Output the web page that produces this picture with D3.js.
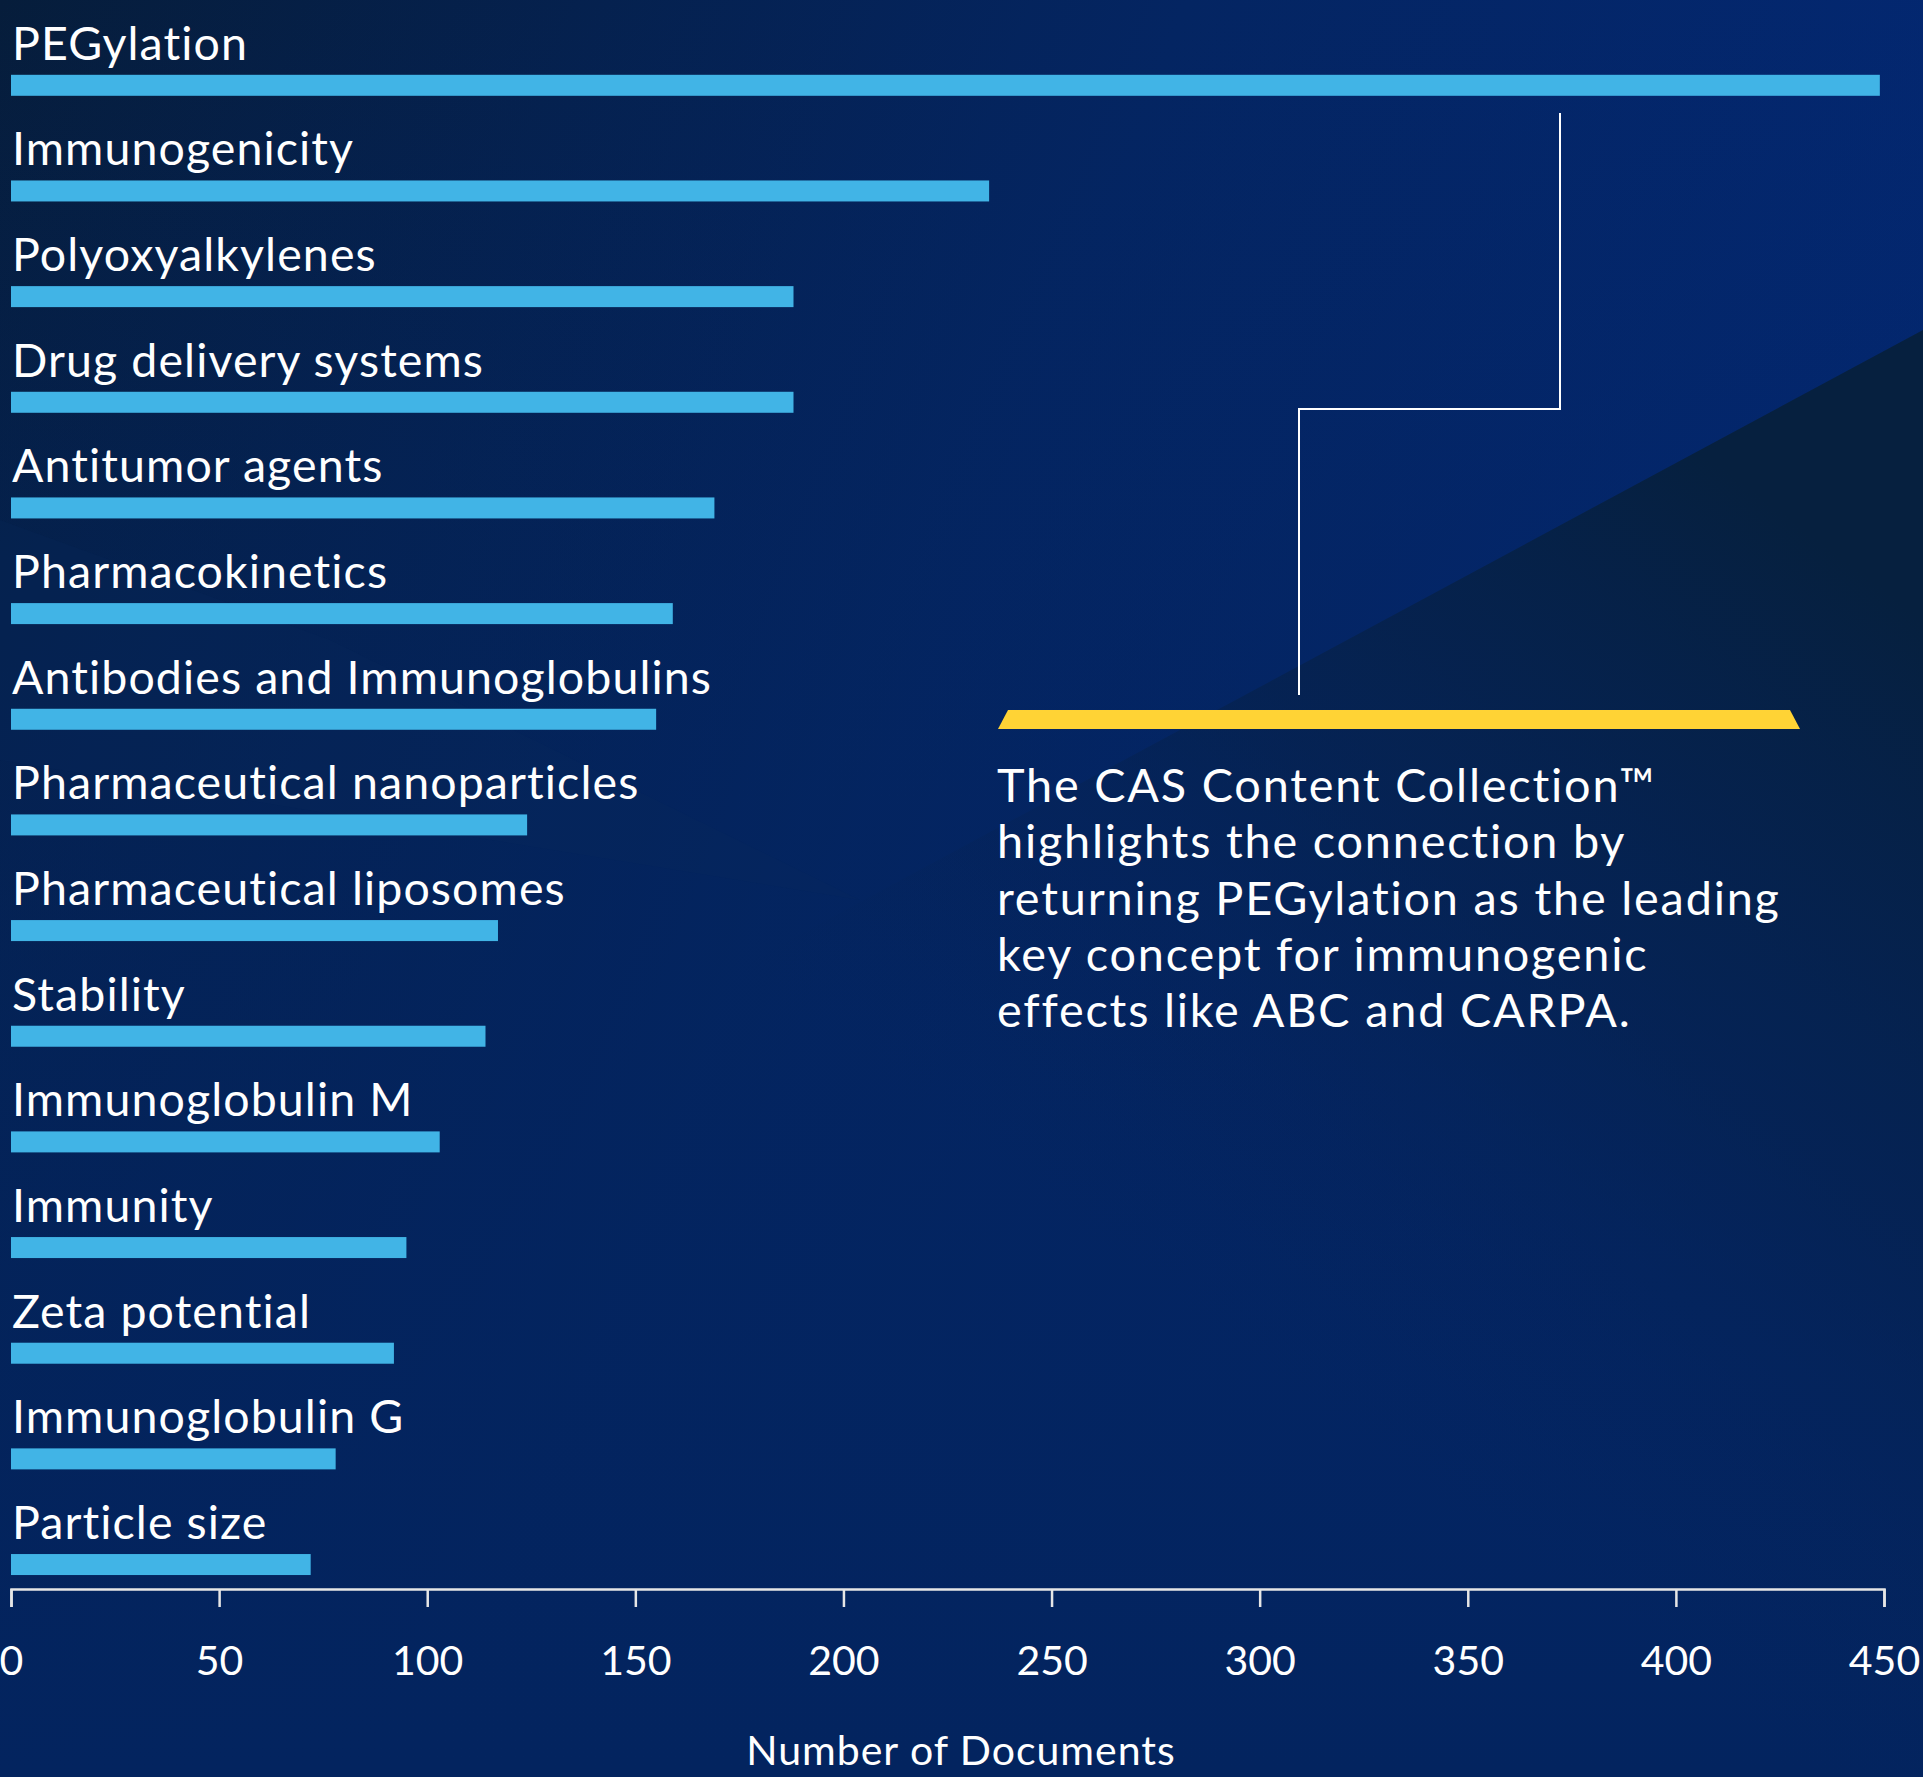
<!DOCTYPE html>
<html>
<head>
<meta charset="utf-8">
<script src="https://cdn.jsdelivr.net/npm/d3@7"></script>
<style>
  html, body { margin: 0; padding: 0; background: #05224f; }
  svg { display: block; }
  text { font-family: Lato, "Open Sans", sans-serif; fill: #ffffff; }
</style>
</head>
<body>
<svg id="chart" width="1923" height="1777"></svg>
<script>
// ---- data ----
const categories = [
  "PEGylation",
  "Immunogenicity",
  "Polyoxyalkylenes",
  "Drug delivery systems",
  "Antitumor agents",
  "Pharmacokinetics",
  "Antibodies and Immunoglobulins",
  "Pharmaceutical nanoparticles",
  "Pharmaceutical liposomes",
  "Stability",
  "Immunoglobulin M",
  "Immunity",
  "Zeta potential",
  "Immunoglobulin G",
  "Particle size"
];
const documentCounts = [449, 235, 188, 188, 169, 159, 155, 124, 117, 114, 103, 95, 92, 78, 72];
const tickValues = [0, 50, 100, 150, 200, 250, 300, 350, 400, 450];
const axisTitle = "Number of Documents";
const annotationLines = [
  "The CAS Content Collection\u2122",
  "highlights the connection by",
  "returning PEGylation as the leading",
  "key concept for immunogenic",
  "effects like ABC and CARPA."
];

// ---- layout ----
const W = 1923, H = 1777;
const svg = d3.select("#chart");

// background
const defs = svg.append("defs");
const bg = defs.append("linearGradient").attr("id", "bg")
  .attr("x1", "0").attr("y1", "0").attr("x2", "1").attr("y2", "0.35");
bg.append("stop").attr("offset", "0").attr("stop-color", "#061d3b");
bg.append("stop").attr("offset", "0.55").attr("stop-color", "#042562");
bg.append("stop").attr("offset", "1").attr("stop-color", "#032874");
svg.append("rect").attr("width", W).attr("height", H).attr("fill", "url(#bg)");

const bgv = defs.append("linearGradient").attr("id", "bgv")
  .attr("x1", "0").attr("y1", "0").attr("x2", "0").attr("y2", "1");
bgv.append("stop").attr("offset", "0").attr("stop-color", "#03245f").attr("stop-opacity", 0);
bgv.append("stop").attr("offset", "0.55").attr("stop-color", "#03245f").attr("stop-opacity", 0.6);
bgv.append("stop").attr("offset", "1").attr("stop-color", "#03245f").attr("stop-opacity", 1);
svg.append("rect").attr("width", W).attr("height", H).attr("fill", "url(#bgv)");

// darker diagonal wedge on the right, fading down-left
const wedge = defs.append("linearGradient").attr("id", "wedge")
  .attr("gradientUnits", "userSpaceOnUse")
  .attr("x1", 1700).attr("y1", 450).attr("x2", 1100).attr("y2", 1250);
wedge.append("stop").attr("offset", "0").attr("stop-color", "#06203f").attr("stop-opacity", 1);
wedge.append("stop").attr("offset", "0.5").attr("stop-color", "#06214a").attr("stop-opacity", 0.6);
wedge.append("stop").attr("offset", "1").attr("stop-color", "#05245d").attr("stop-opacity", 0);
svg.append("path")
  .attr("d", "M1923,330 L0,1365 L0,1777 L1923,1777 Z")
  .attr("fill", "url(#wedge)");

// faint diagonal shapes on the left
svg.append("path")
  .attr("d", "M0,520 L330,640 L860,900 L0,760 Z")
  .attr("fill", "#0a2a5c").attr("opacity", 0.22);

// scales
const x = d3.scaleLinear().domain([0, 450]).range([11, 1884]);
const step = 105.66, barH = 21, y0 = 74.8;
const pInner = 1 - barH / step;
const y = d3.scaleBand().domain(categories)
  .range([y0, y0 + step * (categories.length - pInner)])
  .paddingInner(pInner).paddingOuter(0);

const data = categories.map((c, i) => ({ name: c, value: documentCounts[i] }));

// bars
svg.append("g").selectAll("rect").data(data).join("rect")
  .attr("x", x(0))
  .attr("y", d => y(d.name))
  .attr("width", d => x(d.value) - x(0))
  .attr("height", y.bandwidth())
  .attr("fill", "#41b4e6");

// category labels
svg.append("g").selectAll("text").data(data).join("text")
  .attr("x", 12)
  .attr("y", d => y(d.name) - 15)
  .attr("font-size", 46.5)
  .attr("letter-spacing", 1.1)
  .text(d => d.name);

// x axis
const axisY = 1589;
const axis = svg.append("g").attr("transform", `translate(0,${axisY})`)
  .call(d3.axisBottom(x).tickValues(tickValues).tickSize(18).tickSizeOuter(18).tickFormat(d3.format("d")));
axis.select(".domain").attr("stroke", "#e6e6e6").attr("stroke-width", 2.5);
axis.selectAll(".tick line").attr("stroke", "#e6e6e6").attr("stroke-width", 2.5);
axis.selectAll(".tick text")
  .attr("y", 86).attr("dy", null)
  .attr("font-size", 41)
  .attr("font-family", "Lato, 'Open Sans', sans-serif")
  .attr("fill", "#ffffff");

// axis title
svg.append("text")
  .attr("x", 961).attr("y", 1765)
  .attr("text-anchor", "middle")
  .attr("font-size", 41)
  .attr("letter-spacing", 1.0)
  .text(axisTitle);

// annotation connector
svg.append("path")
  .attr("d", "M1560,113 V409 H1299 V695")
  .attr("fill", "none").attr("stroke", "#ffffff").attr("stroke-width", 2);

// yellow bar
svg.append("path")
  .attr("d", "M1008,710 L1790,710 L1800,729 L998,729 Z")
  .attr("fill", "#ffd335");

// annotation text
svg.append("g").selectAll("text").data(annotationLines).join("text")
  .attr("x", 997)
  .attr("y", (d, i) => 801.7 + i * 56.4)
  .attr("font-size", 46.8)
  .attr("letter-spacing", 1.8)
  .text(d => d);
</script>
</body>
</html>
